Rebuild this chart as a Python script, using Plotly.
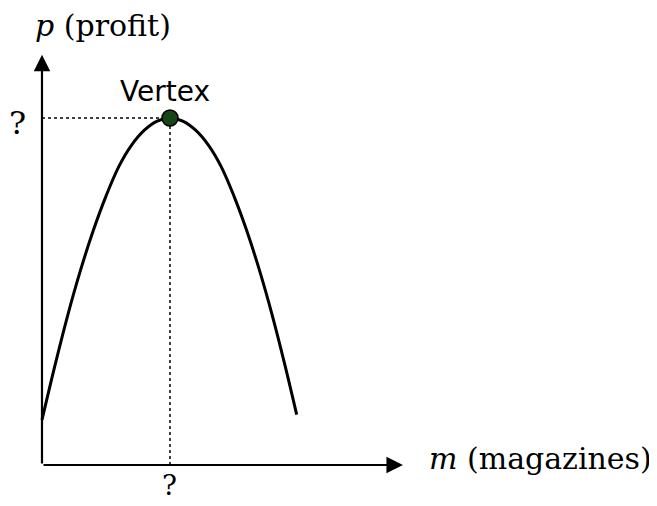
import plotly.graph_objects as go

# magazines sold (m) and profit (p) in arbitrary units
m_curve = [0, 1, 2, 3, 4, 5, 6, 7, 8, 9, 10, 11, 12, 13, 14, 15, 16, 17, 18, 19, 19.9]
p_curve = [13, 28.5, 43, 56, 67.5, 77.5, 86, 92.2, 96.5, 99.1, 100,
           99.1, 96.5, 92.2, 86, 77.5, 67.5, 56, 43, 28.5, 14.5]

vertex_m = [10]
vertex_p = [100]

m_axis_end = 28.2
p_axis_end = 118.2

SERIF = "Century Schoolbook L, DejaVu Serif, serif"

fig = go.Figure()

# dotted guides from the vertex to the axes
fig.add_trace(go.Scatter(x=[0, vertex_m[0]], y=[vertex_p[0], vertex_p[0]],
                         mode="lines", line=dict(color="black", width=1.5, dash="dot"),
                         hoverinfo="skip"))
fig.add_trace(go.Scatter(x=[vertex_m[0], vertex_m[0]], y=[0, vertex_p[0]],
                         mode="lines", line=dict(color="black", width=1.5, dash="dot"),
                         hoverinfo="skip"))

# the parabola
fig.add_trace(go.Scatter(x=m_curve, y=p_curve, mode="lines",
                         line=dict(color="black", width=3, shape="spline")))

# vertex point
fig.add_trace(go.Scatter(x=vertex_m, y=vertex_p, mode="markers",
                         marker=dict(size=16, color="#174517",
                                     line=dict(color="black", width=1.5))))

# axes drawn as arrows
fig.add_annotation(x=m_axis_end, y=0, ax=0, ay=0, xref="x", yref="y",
                   axref="x", ayref="y", showarrow=True, arrowhead=2,
                   arrowsize=1.5, arrowwidth=2.2, arrowcolor="black", text="")
fig.add_annotation(x=0, y=p_axis_end, ax=0, ay=0, xref="x", yref="y",
                   axref="x", ayref="y", showarrow=True, arrowhead=2,
                   arrowsize=1.5, arrowwidth=2.2, arrowcolor="black", text="")

# labels
fig.add_annotation(x=4.8, y=126.8, text="<i>p</i> (profit)", showarrow=False,
                   font=dict(family=SERIF, size=30, color="black"))
fig.add_annotation(x=30.1, y=1.9, text="<i>m</i> (magazines)", showarrow=False,
                   xanchor="left", font=dict(family=SERIF, size=30, color="black"))
fig.add_annotation(x=-1.95, y=98.5, text="?", showarrow=False,
                   font=dict(family=SERIF, size=32, color="black"))
fig.add_annotation(x=10, y=-6.0, text="?", showarrow=False,
                   font=dict(family=SERIF, size=28, color="black"))
fig.add_annotation(x=9.6, y=107.5, text="Vertex", showarrow=False,
                   font=dict(family="DejaVu Sans", size=28, color="black"))

# the page body keeps its default 8px margin, so the figure is 8px smaller
fig.update_layout(
    width=649, height=498,
    margin=dict(l=0, r=0, t=0, b=0),
    paper_bgcolor="white", plot_bgcolor="white",
    showlegend=False,
    xaxis=dict(range=[-2.656, 48.05], visible=False, fixedrange=True),
    yaxis=dict(range=[-11.82, 131.7], visible=False, fixedrange=True),
)

fig.write_html("out.html")
